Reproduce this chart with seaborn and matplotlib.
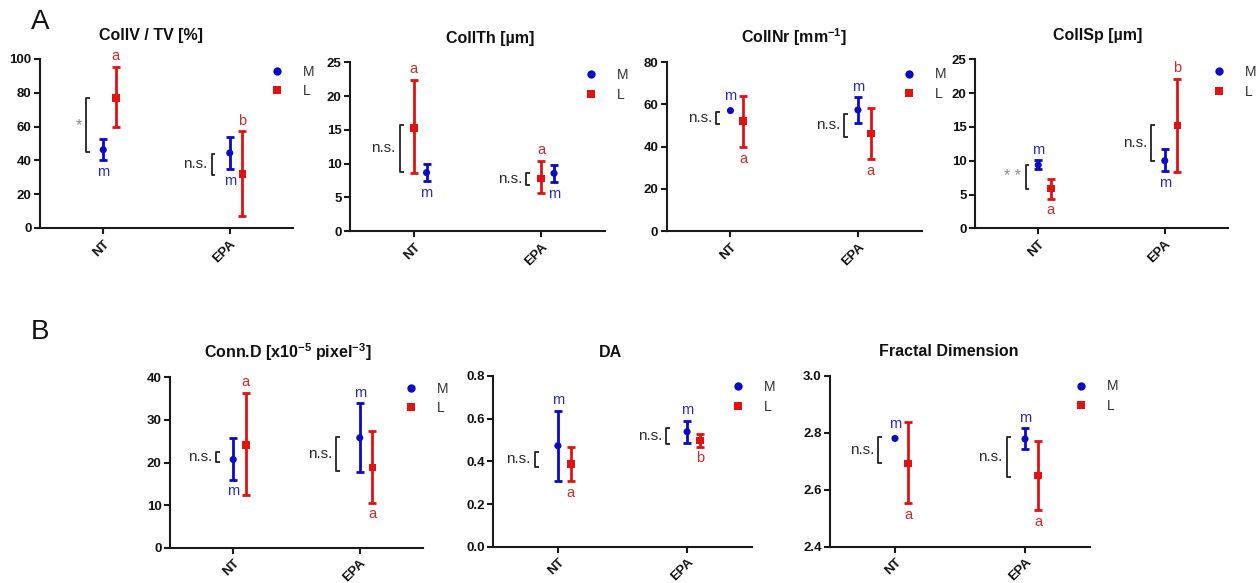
import numpy as np
import pandas as pd
import matplotlib
matplotlib.use("Agg")
import matplotlib.pyplot as plt
from matplotlib.lines import Line2D
from matplotlib.ticker import FormatStrFormatter
import seaborn as sns

# ---------------------------------------------------------------- data
groups = ["NT", "EPA"]

# CollV / TV [%]
collv_m_mean = [46.3, 44.4]
collv_m_lo = [40.0, 34.9]
collv_m_hi = [52.7, 53.6]
collv_l_mean = [76.9, 32.1]
collv_l_lo = [59.6, 6.9]
collv_l_hi = [95.3, 57.2]
collv_m_letters = ["m", "m"]
collv_l_letters = ["a", "b"]
collv_sig = ["*", "n.s."]
collv_brackets = [(76.9, 44.8), (44.0, 31.2)]

# CollTh [um]
collth_m_mean = [8.65, 8.55]
collth_m_lo = [7.4, 7.2]
collth_m_hi = [9.9, 9.8]
collth_l_mean = [15.3, 7.8]
collth_l_lo = [8.65, 5.6]
collth_l_hi = [22.4, 10.4]
collth_m_letters = ["m", "m"]
collth_l_letters = ["a", "a"]
collth_sig = ["n.s.", "n.s."]
collth_brackets = [(15.7, 8.8), (8.55, 6.8)]

# CollNr [mm^-1]
collnr_m_mean = [57.1, 57.4]
collnr_m_lo = [56.6, 51.1]
collnr_m_hi = [57.6, 63.4]
collnr_l_mean = [52.2, 46.3]
collnr_l_lo = [40.0, 34.0]
collnr_l_hi = [64.2, 58.2]
collnr_m_letters = ["m", "m"]
collnr_l_letters = ["a", "a"]
collnr_sig = ["n.s.", "n.s."]
collnr_brackets = [(56.6, 50.75), (55.5, 44.7)]

# CollSp [um]
collsp_m_mean = [9.37, 10.0]
collsp_m_lo = [8.7, 8.5]
collsp_m_hi = [10.1, 11.7]
collsp_l_mean = [5.9, 15.2]
collsp_l_lo = [4.4, 8.3]
collsp_l_hi = [7.25, 22.1]
collsp_m_letters = ["m", "m"]
collsp_l_letters = ["a", "b"]
collsp_sig = ["* *", "n.s."]
collsp_brackets = [(9.4, 5.8), (15.3, 9.9)]

# Conn.D [x10^-5 pixel^-3]
connd_m_mean = [20.7, 25.8]
connd_m_lo = [16.0, 17.8]
connd_m_hi = [25.7, 33.9]
connd_l_mean = [24.1, 18.8]
connd_l_lo = [12.4, 10.6]
connd_l_hi = [36.4, 27.4]
connd_m_letters = ["m", "m"]
connd_l_letters = ["a", "a"]
connd_sig = ["n.s.", "n.s."]
connd_brackets = [(22.5, 20.2), (26.1, 18.1)]

# DA
da_m_mean = [0.473, 0.539]
da_m_lo = [0.309, 0.484]
da_m_hi = [0.638, 0.591]
da_l_mean = [0.388, 0.497]
da_l_lo = [0.309, 0.469]
da_l_hi = [0.469, 0.528]
da_m_letters = ["m", "m"]
da_l_letters = ["a", "b"]
da_sig = ["n.s.", "n.s."]
da_brackets = [(0.445, 0.375), (0.555, 0.481)]

# Fractal Dimension
fd_m_mean = [2.780, 2.778]
fd_m_lo = [2.775, 2.743]
fd_m_hi = [2.785, 2.815]
fd_l_mean = [2.692, 2.650]
fd_l_lo = [2.552, 2.529]
fd_l_hi = [2.836, 2.772]
fd_m_letters = ["m", "m"]
fd_l_letters = ["a", "a"]
fd_sig = ["n.s.", "n.s."]
fd_brackets = [(2.786, 2.695), (2.784, 2.646)]

# ---------------------------------------------------------------- style
sns.set_theme(style="ticks")
plt.rcParams["font.family"] = ["Liberation Sans", "DejaVu Sans"]
plt.rcParams["mathtext.fontset"] = "custom"
plt.rcParams["mathtext.rm"] = "Liberation Sans"
plt.rcParams["mathtext.bf"] = "Liberation Sans:bold"

W, H = 1256, 583
COLORS = {"M": "#0a0ac4", "L": "#e01212"}
TEXT_COLORS = {"M": "#2a2ab4", "L": "#d22a2a"}
MARKERS = {"M": "o", "L": "s"}
SIZES = {"M": 26, "L": 30}
AXIS_COLOR = "#1a1a1a"

fig = plt.figure(figsize=(W / 100, H / 100), dpi=100)


def fx(px):
    return px / W


def fy(py):
    return 1 - py / H


panels = [
    dict(title="CollV / TV [%]", title_x=0.44,
         rect=(40, 59, 293, 228), legend_at=(277, 71),
         ylim=(0, 100), yticks=np.arange(0, 101, 20), fmt="%d",
         offsets={"M": 0.0, "L": 0.1}, bracket_dx=[-0.134, -0.144],
         m=(collv_m_mean, collv_m_lo, collv_m_hi, collv_m_letters, ["below", "below"]),
         l=(collv_l_mean, collv_l_lo, collv_l_hi, collv_l_letters, ["above", "above"]),
         sig=collv_sig, brackets=collv_brackets),
    dict(title="CollTh [µm]", title_x=0.55,
         rect=(350, 62.3, 605, 231), legend_at=(591, 74.7),
         ylim=(0, 25), yticks=np.arange(0, 26, 5), fmt="%d",
         offsets={"M": 0.1, "L": 0.0}, bracket_dx=[-0.11, -0.117],
         m=(collth_m_mean, collth_m_lo, collth_m_hi, collth_m_letters, ["below", "below"]),
         l=(collth_l_mean, collth_l_lo, collth_l_hi, collth_l_letters, ["above", "above"]),
         sig=collth_sig, brackets=collth_brackets),
    dict(title=r"CollNr [mm$^{\mathbf{-1}}$]", title_x=0.5,
         rect=(666.7, 62.3, 921.7, 231), legend_at=(909, 74),
         ylim=(0, 80), yticks=np.arange(0, 81, 20), fmt="%d",
         offsets={"M": 0.0, "L": 0.1}, bracket_dx=[-0.11, -0.108],
         m=(collnr_m_mean, collnr_m_lo, collnr_m_hi, collnr_m_letters, ["above", "above"]),
         l=(collnr_l_mean, collnr_l_lo, collnr_l_hi, collnr_l_letters, ["below", "below"]),
         sig=collnr_sig, brackets=collnr_brackets),
    dict(title="CollSp [µm]", title_x=0.484,
         rect=(975, 59.3, 1228, 228.3), legend_at=(1219, 71.7),
         ylim=(0, 25), yticks=np.arange(0, 26, 5), fmt="%d",
         offsets={"M": 0.0, "L": 0.1}, bracket_dx=[-0.10, -0.105],
         m=(collsp_m_mean, collsp_m_lo, collsp_m_hi, collsp_m_letters, ["above", "below"]),
         l=(collsp_l_mean, collsp_l_lo, collsp_l_hi, collsp_l_letters, ["below", "above"]),
         sig=collsp_sig, brackets=collsp_brackets),
    dict(title=r"Conn.D [x10$^{\mathbf{-5}}$ pixel$^{\mathbf{-3}}$]", title_x=0.466,
         rect=(170, 377.3, 423, 547.7), legend_at=(411, 388),
         ylim=(0, 40), yticks=np.arange(0, 41, 10), fmt="%d",
         offsets={"M": 0.0, "L": 0.1}, bracket_dx=[-0.134, -0.187],
         m=(connd_m_mean, connd_m_lo, connd_m_hi, connd_m_letters, ["below", "above"]),
         l=(connd_l_mean, connd_l_lo, connd_l_hi, connd_l_letters, ["above", "below"]),
         sig=connd_sig, brackets=connd_brackets),
    dict(title="DA", title_x=0.454,
         rect=(493.3, 376, 751.7, 546.7), legend_at=(738, 386.7),
         ylim=(0, 0.8), yticks=np.arange(0, 0.81, 0.2), fmt="%.1f",
         offsets={"M": 0.0, "L": 0.1}, bracket_dx=[-0.18, -0.16],
         m=(da_m_mean, da_m_lo, da_m_hi, da_m_letters, ["above", "above"]),
         l=(da_l_mean, da_l_lo, da_l_hi, da_l_letters, ["below", "below"]),
         sig=da_sig, brackets=da_brackets),
    dict(title="Fractal Dimension", title_x=0.455,
         rect=(830, 375.7, 1090, 546.7), legend_at=(1081, 386),
         ylim=(2.4, 3.0), yticks=np.arange(2.4, 3.01, 0.2), fmt="%.1f",
         offsets={"M": 0.0, "L": 0.1}, bracket_dx=[-0.128, -0.14],
         m=(fd_m_mean, fd_m_lo, fd_m_hi, fd_m_letters, ["above", "above"]),
         l=(fd_l_mean, fd_l_lo, fd_l_hi, fd_l_letters, ["below", "below"]),
         sig=fd_sig, brackets=fd_brackets),
]


def draw_panel(spec):
    left, top, right, bottom = spec["rect"]
    ax = fig.add_axes([fx(left), fy(bottom), (right - left) / W, (bottom - top) / H])
    ax.set_xlim(-0.5, 1.5)
    ax.set_ylim(*spec["ylim"])
    px_per_unit = (bottom - top) / (spec["ylim"][1] - spec["ylim"][0])

    rows = []
    for series, key in (("M", "m"), ("L", "l")):
        mean, lo, hi, letters, where = spec[key]
        for i, g in enumerate(groups):
            rows.append(dict(group=g, series=series, x=i + spec["offsets"][series],
                             mean=mean[i], lo=lo[i], hi=hi[i],
                             letter=letters[i], where=where[i]))
    df = pd.DataFrame(rows)
    # error bars shorter than the marker stay hidden behind it
    df["bar"] = (df["hi"] - df["lo"]) * px_per_unit > 7

    for series in ("M", "L"):
        sub = df[(df["series"] == series) & df["bar"]]
        if len(sub):
            ax.errorbar(sub["x"], sub["mean"],
                        yerr=[sub["mean"] - sub["lo"], sub["hi"] - sub["mean"]],
                        fmt="none", ecolor=COLORS[series], elinewidth=2.0,
                        capsize=3.2, capthick=2.0, zorder=2)

    sns.scatterplot(data=df, x="x", y="mean", hue="series", style="series",
                    markers=MARKERS, palette=COLORS, size="series", sizes=SIZES,
                    linewidth=0, legend=False, ax=ax, zorder=3)

    # group letters above / below the error bars
    for _, r in df.iterrows():
        extra = 0 if r["bar"] else 3
        if r["where"] == "above":
            anchor = r["hi"] if r["bar"] else r["mean"]
            ax.annotate(r["letter"], xy=(r["x"], anchor), xytext=(0, 2.5 + extra),
                        textcoords="offset points", ha="center", va="bottom",
                        fontsize=10.5, color=TEXT_COLORS[r["series"]])
        else:
            anchor = r["lo"] if r["bar"] else r["mean"]
            ax.annotate(r["letter"], xy=(r["x"], anchor), xytext=(0, -3.5 - extra),
                        textcoords="offset points", ha="center", va="top",
                        fontsize=10.5, color=TEXT_COLORS[r["series"]])

    # M vs L comparison brackets
    arm = 0.03
    for i, (y_top, y_bot) in enumerate(spec["brackets"]):
        xb = i + spec["bracket_dx"][i]
        ax.plot([xb + arm, xb, xb, xb + arm], [y_top, y_top, y_bot, y_bot],
                color="#222222", lw=1.3, solid_capstyle="butt", zorder=2)
        label = spec["sig"][i]
        star = "*" in label
        ax.annotate(label, xy=(xb, (y_top + y_bot) / 2), xytext=(-3, 0),
                    textcoords="offset points", ha="right", va="center",
                    fontsize=11 if not star else 11.5,
                    color="#8a8a8a" if star else "#2b2b2b")

    ax.set_yticks(spec["yticks"])
    ax.yaxis.set_major_formatter(FormatStrFormatter(spec["fmt"]))
    ax.set_xticks([0, 1])
    ax.set_xticklabels(groups, rotation=45, ha="right", rotation_mode="anchor")
    ax.set_xlabel("")
    ax.set_ylabel("")
    sns.despine(ax=ax)
    for side in ("left", "bottom"):
        ax.spines[side].set_linewidth(1.5)
        ax.spines[side].set_color(AXIS_COLOR)
    ax.tick_params(axis="both", direction="out", length=4, width=1.5,
                   color=AXIS_COLOR, labelsize=9.5, pad=2)
    ax.tick_params(axis="x", pad=3)
    for t in ax.get_xticklabels() + ax.get_yticklabels():
        t.set_fontweight("bold")
        t.set_color("#111111")

    ax.set_title(spec["title"], fontsize=11.5, fontweight="bold",
                 x=spec["title_x"], pad=14, color="#111111")

    handles = [
        Line2D([], [], ls="none", marker="o", color=COLORS["M"], markersize=6,
               markeredgewidth=0, label="M"),
        Line2D([], [], ls="none", marker="s", color=COLORS["L"], markersize=6,
               markeredgewidth=0, label="L"),
    ]
    mx, my = spec["legend_at"]
    ax.legend(handles=handles, loc="upper left", frameon=False, fontsize=10,
              handlelength=1.0, handletextpad=1.35, labelspacing=0.4,
              borderpad=0, borderaxespad=0,
              bbox_to_anchor=(fx(mx - 7), fy(my - 6.5)),
              bbox_transform=fig.transFigure, labelcolor="#333333")
    return ax


for spec in panels:
    draw_panel(spec)

fig.text(fx(40), fy(22), "A", fontsize=20, ha="center", va="center", color="#111111")
fig.text(fx(40), fy(332), "B", fontsize=20, ha="center", va="center", color="#111111")

fig.savefig("out.png", dpi=100, facecolor="white")
